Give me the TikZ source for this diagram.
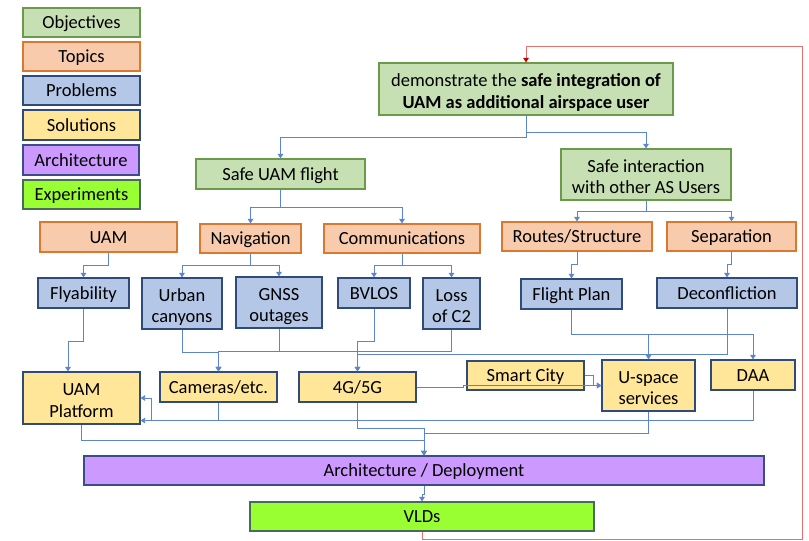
\documentclass[tikz,border=0pt]{standalone}
\usepackage{fontspec}
\setmainfont{Carlito}
\usetikzlibrary{arrows.meta,calc}

\definecolor{objfill}{HTML}{C6E0B4}
\definecolor{objline}{HTML}{6A9A4A}
\definecolor{topfill}{HTML}{F8CBAD}
\definecolor{topline}{HTML}{D9782E}
\definecolor{probfill}{HTML}{B4C7E7}
\definecolor{probline}{HTML}{2F4B7C}
\definecolor{solfill}{HTML}{FFE699}
\definecolor{solline}{HTML}{2F4B7C}
\definecolor{archfill}{HTML}{CC99FF}
\definecolor{archline}{HTML}{3B4C86}
\definecolor{expfill}{HTML}{99FF33}
\definecolor{expline}{HTML}{4A6A5A}
\definecolor{linkblue}{HTML}{5B85CF}
\definecolor{loopline}{HTML}{E47070}
\definecolor{looptip}{HTML}{C00000}

% line struts that place the baselines as in a slide text box
\newcommand\lnstrut{\rule[-4.4pt]{0pt}{21.4pt}}
\newcommand\topstrut{\rule{0pt}{21pt}}

\tikzset{
  box/.style={draw, line width=1.1pt, inner sep=0pt, align=center,
    font=\fontsize{18.5}{21.5}\selectfont, anchor=center,
    execute at begin node=\lnstrut},
  objbox/.style={box, fill=objfill, draw=objline},
  topbox/.style={box, fill=topfill, draw=topline},
  probbox/.style={box, fill=probfill, draw=probline},
  solbox/.style={box, fill=solfill, draw=solline},
  archbox/.style={box, fill=archfill, draw=archline},
  expbox/.style={box, fill=expfill, draw=expline},
  conn/.style={draw=linkblue, line width=0.8pt,
    -{Triangle[width=5.5pt,length=4.5pt]}},
  loop/.style={draw=loopline, line width=0.8pt,
    -{Triangle[width=5.5pt,length=4.5pt,color=looptip]}},
}

\begin{document}
\begin{tikzpicture}[x=1pt,y=-1pt]
\useasboundingbox (0,0) rectangle (809,541);

% legend
\node[objbox,  minimum width=117, minimum height=29] (legObj)  at (81.5,22.5)  {Objectives};
\node[topbox,  minimum width=117, minimum height=29] (legTop)  at (81.5,56.5)  {Topics};
\node[probbox, minimum width=117, minimum height=29] (legProb) at (81.5,90.5)  {Problems};
\node[solbox,  minimum width=117, minimum height=30] (legSol)  at (81.5,125)   {Solutions};
\node[archbox, minimum width=116, minimum height=30] (legArch) at (81,160)     {Architecture};
\node[expbox,  minimum width=117, minimum height=29] (legExp)  at (81.5,194.5) {Experiments};

% objectives
\node[objbox, minimum width=294, minimum height=52] (obj) at (526,89)
  {\topstrut demonstrate the \textbf{safe integration of}\\\lnstrut\textbf{UAM as additional airspace user}};
\node[objbox, minimum width=169, minimum height=30] (safe)  at (280.5,174) {Safe UAM flight};
\node[objbox, minimum width=170, minimum height=51] (inter) at (646,174.5) {\topstrut Safe interaction\\\lnstrut with other AS Users};

% topics
\node[topbox, minimum width=137, minimum height=30] (uam)    at (108.5,237)  {UAM};
\node[topbox, minimum width=101, minimum height=29] (nav)    at (250.5,238.5){Navigation};
\node[topbox, minimum width=156, minimum height=29] (comm)   at (402,238.5)  {Communications};
\node[topbox, minimum width=150, minimum height=29] (routes) at (577,236.5)  {Routes/Structure};
\node[topbox, minimum width=129, minimum height=29] (sep)    at (731.5,236.5){Separation};

% problems
\node[probbox, minimum width=91,  minimum height=30] (fly)   at (83.5,293)   {Flyability};
\node[probbox, minimum width=80,  minimum height=51] (urban) at (182,303.5)  {\topstrut Urban\\\lnstrut canyons};
\node[probbox, minimum width=86,  minimum height=51] (gnss)  at (279,302.5)  {\topstrut GNSS\\\lnstrut outages};
\node[probbox, minimum width=72,  minimum height=30] (bvlos) at (374,293)    {BVLOS};
\node[probbox, minimum width=57,  minimum height=51] (loss)  at (451.5,303.5){\topstrut Loss\\\lnstrut of C2};
\node[probbox, minimum width=101, minimum height=30] (fplan) at (571.5,294)  {Flight Plan};
\node[probbox, minimum width=140, minimum height=30] (decon) at (727,293)    {Deconfliction};

% solutions
\node[solbox, minimum width=117, minimum height=52] (plat)   at (81.5,398)   {\topstrut UAM\\\lnstrut Platform};
\node[solbox, minimum width=117, minimum height=30] (cam)    at (218.5,387)  {Cameras/etc.};
\node[solbox, minimum width=117, minimum height=30] (g45)    at (357.5,387)  {4G/5G};
\node[solbox, minimum width=117, minimum height=29] (smart)  at (525.5,375.5){Smart City};
\node[solbox, minimum width=93,  minimum height=51] (uspace) at (648.5,385.5){\topstrut U-space\\\lnstrut services};
\node[solbox, minimum width=84,  minimum height=30] (daa)    at (753,375)    {DAA};

% architecture and experiments
\node[archbox, minimum width=680, minimum height=29] (arch) at (424,470.5) {Architecture / Deployment};
\node[expbox,  minimum width=344, minimum height=29] (vld)  at (422,516.5) {VLDs};

% objective to sub-objectives
\draw[conn] (obj.south) -- ++(0,22) -| (safe.north);
\draw[conn] (obj.south) -- ++(0,17) -| (inter.north);

% sub-objectives to topics
\draw[conn] (safe.south) -- ++(0,18) -| (nav.north);
\draw[conn] (safe.south) -- ++(0,18) -| (comm.north);
\draw[conn] (inter.south) -- ++(0,11) -| (routes.north);
\draw[conn] (inter.south) -- ++(0,11) -| (sep.north);

% topics to problems
\draw[conn] (uam.south) -- ++(0,13) -| (fly.north);
\draw[conn] (nav.south) -- ++(0,12) -| (urban.north);
\draw[conn] (nav.south) -- ++(0,12) -| (gnss.north);
\draw[conn] (comm.south) -- ++(0,12) -| (bvlos.north);
\draw[conn] (comm.south) -- ++(0,12) -| (loss.north);
\draw[conn] (routes.south) -- ++(0,13) -| (fplan.north);
\draw[conn] (sep.south) -- ++(0,13) -| (decon.north);

% problems to solutions
\draw[conn] (fly.south) -- ++(0,33) -| ($(plat.north)+(-13.5,0)$);
\draw[conn] (urban.south) -- ++(0,23) -| (cam.north);
\draw[conn] (gnss.south) -- ++(0,23) -| (cam.north);
\draw[conn] (loss.south) -- ++(0,22) -| (cam.north);
\draw[conn] (bvlos.south) -- ++(0,33) -| (g45.north);
\draw[conn] (decon.south) -- ++(0,46) -| (g45.north);
\draw[conn] (fplan.south) -- ++(0,25) -| (uspace.north);
\draw[conn] (fplan.south) -- ++(0,25) -| (daa.north);

% between solutions
\draw[conn] (smart.east) -- ++(9,0) |- (uspace.west);
\draw[conn] (g45.east) -- ++(47,0) |- (uspace.west);
\draw[conn] (cam.south) |- ($(plat.south east)+(0,-4)$);
\draw[conn] (daa.south) |- ($(plat.east)+(11,22)$) |- (plat.east);

% solutions to architecture
\draw[conn] (g45.south) -- ++(0,26) -| (arch.north);
\draw[conn] (plat.south) -- ++(0,16) -| (arch.north);
\draw[conn] (uspace.south) -- ++(0,22) -| (arch.north);
\draw[conn] (arch.south) -- ++(0,9) -| (vld.north);

% feedback loop from the experiments back to the objective
\draw[loop] (vld.south) -- ++(0,8) -| (802,46) -| (obj.north);
\end{tikzpicture}
\end{document}
